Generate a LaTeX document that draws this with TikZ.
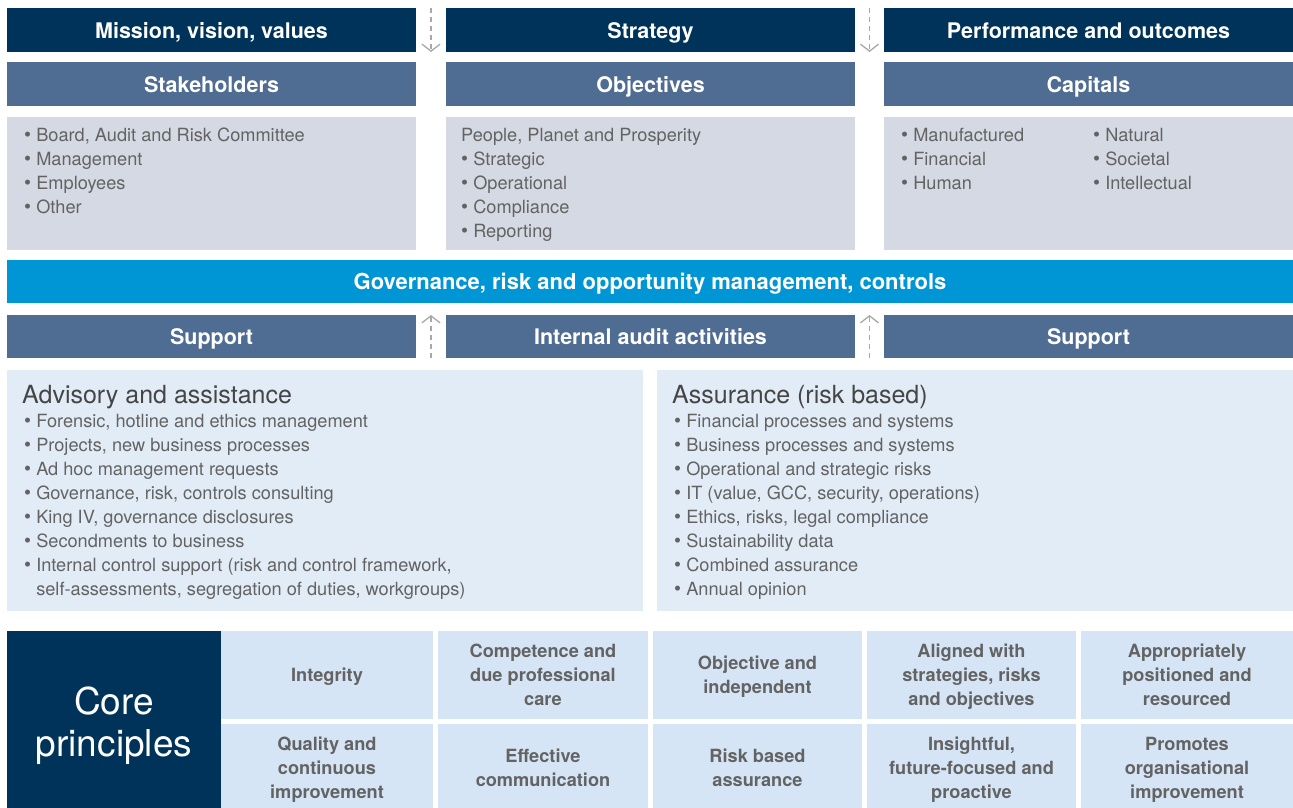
\documentclass[tikz,border=0pt]{standalone}
\usepackage{fontspec}
\setmainfont{TeX Gyre Heros}
\usetikzlibrary{arrows.meta,positioning,calc}

\definecolor{navy}{HTML}{003359}
\definecolor{midblue}{HTML}{4F6C93}
\definecolor{panelgray}{HTML}{D5D9E3}
\definecolor{govblue}{HTML}{0096D6}
\definecolor{lightpanel}{HTML}{E2ECF7}
\definecolor{cellblue}{HTML}{D6E5F5}
\definecolor{txtgray}{HTML}{636363}
\definecolor{headgray}{HTML}{454545}
\definecolor{arrgray}{HTML}{A8A8A8}

\newcommand{\bul}{{\fontsize{20}{24}\selectfont\textbullet}\ }

\begin{document}
\begin{tikzpicture}[
  x=1pt, y=1pt,
  box/.style={anchor=north west, inner sep=0pt, outer sep=0pt},
  hdr/.style={box, fill=navy, text=white, font=\fontsize{21.5}{24}\selectfont\bfseries, text height=17pt, text depth=1pt, minimum width=409pt, minimum height=44pt},
  sub/.style={hdr, fill=midblue},
  gov/.style={hdr, fill=govblue, font=\fontsize{22}{24}\selectfont\bfseries, minimum width=1286pt, minimum height=43pt},
  panel/.style={box, fill=panelgray, minimum width=409pt, minimum height=133pt},
  big/.style={box, fill=lightpanel, minimum width=636pt, minimum height=241pt},
  core/.style={box, fill=navy, minimum width=214pt, minimum height=181pt},
  coretxt/.style={inner sep=0pt, text=white, align=center, font=\fontsize{37}{42}\selectfont},
  cell/.style={box, fill=cellblue, text=txtgray, align=center, font=\fontsize{18.2}{24}\selectfont\bfseries, text depth=-8pt, minimum height=88pt},
  lst/.style={inner sep=0pt, align=left, text=txtgray, font=\fontsize{18.2}{24}\selectfont},
  bighead/.style={inner sep=0pt, text=headgray, font=\fontsize{25}{28}\selectfont},
  dasharr/.style={draw=arrgray, line width=1.3pt, dash pattern=on 5pt off 4pt, -{Straight Barb[length=7pt,width=18pt,line width=1.3pt]}}
]
\path[fill=white, use as bounding box] (0,0) rectangle (1293,-807);
\clip (0,0) rectangle (1293,-807);

% top rows
\node[hdr] (mvv) at (7,-8) {Mission, vision, values};
\node[hdr] (strat) at (446,-8) {Strategy};
\node[hdr] (perf) at (884,-8) {Performance and outcomes};

\node[sub] (stk) at (7,-62) {Stakeholders};
\node[sub] (obj) at (446,-62) {Objectives};
\node[sub] (cap) at (884,-62) {Capitals};

\node[panel] (stkp) at (7,-117) {};
\node[panel] (objp) at (446,-117) {};
\node[panel] (capp) at (884,-117) {};

\node[lst, below right=11pt and 17pt of stkp.north west] (stktxt) {\bul Board, Audit and Risk Committee\\\bul Management\\\bul Employees\\\bul Other};
\node[lst, below right=11pt and 15pt of objp.north west] (objtxt) {People, Planet and Prosperity\\\bul Strategic\\\bul Operational\\\bul Compliance\\\bul Reporting};
\node[lst, below right=11pt and 17pt of capp.north west] (captxt1) {\bul Manufactured\\\bul Financial\\\bul Human};
\node[lst, below right=11pt and 209pt of capp.north west] (captxt2) {\bul Natural\\\bul Societal\\\bul Intellectual};

\draw[dasharr] ($(mvv.north east)!.5!(strat.north west)$) -- ($(mvv.south east)!.5!(strat.south west)$);
\draw[dasharr] ($(strat.north east)!.5!(perf.north west)$) -- ($(strat.south east)!.5!(perf.south west)$);

% governance and internal audit
\node[gov] (govbar) at (7,-260) {Governance, risk and opportunity management, controls};

\node[sub, minimum height=43pt] (sup1) at (7,-315) {Support};
\node[sub, minimum height=43pt] (ia) at (446,-315) {Internal audit activities};
\node[sub, minimum height=43pt] (sup2) at (884,-315) {Support};

\draw[dasharr] ($(sup1.south east)!.5!(ia.south west)$) -- ($(sup1.north east)!.5!(ia.north west)$);
\draw[dasharr] ($(ia.south east)!.5!(sup2.south west)$) -- ($(ia.north east)!.5!(sup2.north west)$);

\node[big] (adv) at (7,-370) {};
\node[big] (asr) at (657,-370) {};

\node[bighead, below right=15pt and 15pt of adv.north west] (advh) {Advisory and assistance};
\node[lst, below right=5pt and 2pt of advh.south west] (advtxt) {\bul Forensic, hotline and ethics management\\\bul Projects, new business processes\\\bul Ad hoc management requests\\\bul Governance, risk, controls consulting\\\bul King IV, governance disclosures\\\bul Secondments to business\\\bul Internal control support (risk and control framework,\\\phantom{\bul}self-assessments, segregation of duties, workgroups)};

\node[bighead, below right=15pt and 15pt of asr.north west] (asrh) {Assurance (risk based)};
\node[lst, below right=5pt and 2pt of asrh.south west] (asrtxt) {\bul Financial processes and systems\\\bul Business processes and systems\\\bul Operational and strategic risks\\\bul IT (value, GCC, security, operations)\\\bul Ethics, risks, legal compliance\\\bul Sustainability data\\\bul Combined assurance\\\bul Annual opinion};

% core principles
\node[core] (core) at (7,-631) {};
\node[coretxt] (coret) at ($(core.center)+(0,-4)$) {Core\\principles};

\node[cell, minimum width=212pt] (c11) at (221,-631) {Integrity};
\node[cell, minimum width=210pt] (c12) at (438,-631) {Competence and\\due professional\\care};
\node[cell, minimum width=209pt] (c13) at (653,-631) {Objective and\\independent};
\node[cell, minimum width=209pt] (c14) at (867,-631) {Aligned with\\strategies, risks\\and objectives};
\node[cell, minimum width=212pt] (c15) at (1081,-631) {Appropriately\\positioned and\\resourced};

\node[cell, minimum width=212pt] (c21) at (221,-724) {Quality and\\continuous\\improvement};
\node[cell, minimum width=210pt] (c22) at (438,-724) {Effective\\communication};
\node[cell, minimum width=209pt] (c23) at (653,-724) {Risk based\\assurance};
\node[cell, minimum width=209pt] (c24) at (867,-724) {Insightful,\\future-focused and\\proactive};
\node[cell, minimum width=212pt] (c25) at (1081,-724) {Promotes\\organisational\\improvement};
\end{tikzpicture}
\end{document}
